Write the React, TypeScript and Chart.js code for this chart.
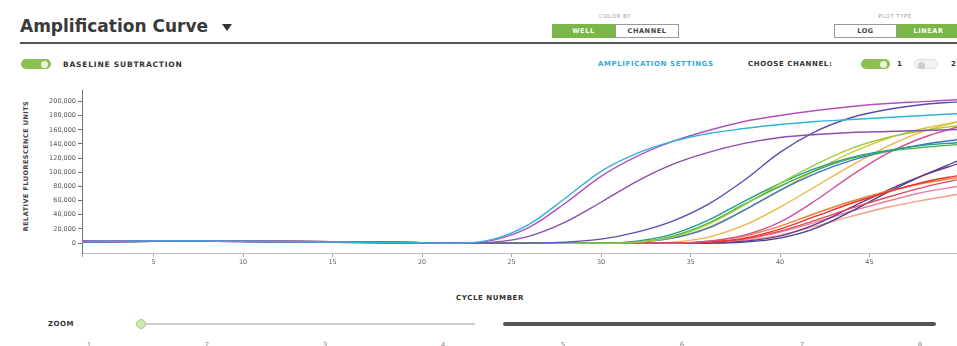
import React, { useEffect, useRef } from 'react';
import { Chart, registerables } from 'chart.js';

Chart.register(...registerables);

// ---------- data ----------
const CYCLES = [1, 5, 10, 15, 20, 22, 24, 26, 28, 30, 32, 34, 36, 38, 40, 42, 44, 46, 48, 50];

const X_TICKS = [1, 5, 10, 15, 20, 25, 30, 35, 40, 45, 50];
const X_TICK_LABELS = ['', '5', '10', '15', '20', '25', '30', '35', '40', '45', ''];
const Y_TICKS = [0, 20000, 40000, 60000, 80000, 100000, 120000, 140000, 160000, 180000, 200000];

const ZOOM_LABELS = ['1', '2', '3', '4', '5', '6', '7', '8'];

const WELL_1 = [2100, 3100, 2700, 1500, 500, 0, 5600, 26800, 63400, 101400, 126700, 143600, 154900, 161900, 167600, 171800, 174600, 177400, 180200, 183000];
const WELL_2 = [2800, 3500, 2400, 1200, 300, 0, 4200, 22500, 56300, 94300, 122500, 143600, 159100, 171800, 180200, 187300, 192900, 197100, 199900, 202800];
const WELL_3 = [1500, 2600, 2900, 1800, 700, 0, 1400, 9900, 29600, 57700, 87300, 111200, 128100, 140800, 149200, 153500, 156300, 157700, 159100, 160500];
const WELL_4 = [2500, 2900, 2200, 1400, 400, 0, 0, 0, 1400, 5600, 15500, 31000, 54900, 88700, 128100, 157700, 177400, 188700, 195700, 199900];
const WELL_5 = [2100, 3100, 2700, 1500, 500, 0, 0, 0, 0, 0, 1400, 8400, 26800, 53500, 84500, 111200, 133800, 149200, 159100, 166100];
const WELL_6 = [2800, 3500, 2400, 1200, 300, 0, 0, 0, 0, 0, 1400, 9900, 28200, 54900, 80300, 102800, 119700, 129500, 135200, 139400];
const WELL_7 = [1500, 2600, 2900, 1800, 700, 0, 0, 0, 0, 0, 2800, 12700, 32400, 59100, 84500, 105600, 121100, 130900, 138000, 142200];
const WELL_8 = [2500, 2900, 2200, 1400, 400, 0, 0, 0, 0, 0, 1400, 7000, 21100, 46500, 74600, 98600, 116900, 129500, 139400, 146400];
const WELL_9 = [2100, 3100, 2700, 1500, 500, 0, 0, 0, 0, 0, 1400, 7000, 22500, 46500, 74600, 102800, 128100, 147800, 161900, 171800];
const WELL_10 = [2800, 3500, 2400, 1200, 300, 0, 0, 0, 0, 0, 0, 0, 2800, 11300, 29600, 60500, 95700, 126700, 149200, 164700];
const WELL_11 = [1500, 2600, 2900, 1800, 700, 0, 0, 0, 0, 0, 0, 0, 1400, 7000, 19700, 38000, 56300, 71800, 85900, 95700];
const WELL_12 = [2500, 2900, 2200, 1400, 400, 0, 0, 0, 0, 0, 0, 0, 2800, 9900, 23900, 42200, 59100, 73200, 84500, 92900];
const WELL_13 = [2100, 3100, 2700, 1500, 500, 0, 0, 0, 0, 0, 0, 0, 1400, 5600, 16900, 32400, 49300, 64800, 78800, 90100];
const WELL_14 = [2800, 3500, 2400, 1200, 300, 0, 0, 0, 0, 0, 0, 0, 0, 2800, 9900, 26800, 50700, 74600, 95700, 112600];
const WELL_15 = [1500, 2600, 2900, 1800, 700, 0, 0, 0, 0, 0, 0, 0, 0, 1400, 7000, 21100, 45100, 71800, 95700, 116900];
const WELL_16 = [2500, 2900, 2200, 1400, 400, 0, 0, 0, 0, 0, 0, 0, 1400, 4200, 11300, 23900, 38000, 50700, 60500, 69000];
const WELL_17 = [2100, 3100, 2700, 1500, 500, 0, 0, 0, 0, 0, 0, 0, 1400, 5600, 15500, 29600, 45100, 59100, 71800, 80300];
const WELL_18 = [2800, 3500, 2400, 1200, 300, 0, 0, 0, 0, 0, 0, 1400, 8400, 25300, 50700, 80300, 109800, 136600, 157700, 171800];

const SERIES = [WELL_1, WELL_2, WELL_3, WELL_4, WELL_5, WELL_6, WELL_7, WELL_8, WELL_9, WELL_10, WELL_11, WELL_12, WELL_13, WELL_14, WELL_15, WELL_16, WELL_17, WELL_18];

// ---------- styles ----------
const COLORS = ['#2fb4d8', '#b44fc2', '#8a4fb0', '#5b4db5', '#9ccc3c', '#3fae4a', '#1e9c8a', '#3d74c9', '#d6c93a', '#d0509c', '#e8322c', '#f07c30', '#e24a5a', '#6a3a8a', '#4a3e96', '#f3a085', '#ea7fa4', '#f4b24a'];

const FONT = "'DejaVu Sans', 'Open Sans', sans-serif";
const GREEN = '#7ab648';

function Txt(props: { x: number; cy: number; size: number; color?: string; weight?: number; ls?: number; children: any; anchor?: 'left' | 'center' | 'right' }) {
  const { x, cy, size, color = '#333', weight = 700, ls = 0, children, anchor = 'left' } = props;
  const h = Math.ceil(size * 1.4);
  const style: any = {
    position: 'absolute',
    top: cy - h / 2,
    height: h,
    lineHeight: h + 'px',
    fontSize: size,
    fontWeight: weight,
    color,
    letterSpacing: ls,
    whiteSpace: 'nowrap',
    fontFamily: FONT,
  };
  if (anchor === 'left') style.left = x;
  else if (anchor === 'right') style.right = 957 - x;
  else { style.left = x; style.transform = 'translateX(-50%)'; }
  return <div style={style}>{children}</div>;
}

function Toggle(props: { x: number; cy: number; w: number; on: boolean }) {
  const { x, cy, w, on } = props;
  const h = 10;
  return (
    <div style={{ position: 'absolute', left: x, top: cy - h / 2, width: w, height: h, borderRadius: h / 2, background: on ? '#8cc152' : '#f2f2f2', border: on ? 'none' : '1px solid #ddd', boxSizing: 'border-box' }}>
      <div style={{ position: 'absolute', left: on ? w - 10 : 3, top: 1.5, width: 7, height: 7, borderRadius: 4, background: on ? '#e8f4da' : '#ccc' }} />
    </div>
  );
}

function Btn(props: { x: number; w: number; label: string; on: boolean }) {
  const { x, w, label, on } = props;
  return (
    <div style={{ position: 'absolute', left: x, top: 24, width: w, height: 14, boxSizing: 'border-box', background: on ? GREEN : '#fff', border: on ? 'none' : '1px solid #999', color: on ? '#fff' : '#444', fontFamily: FONT, fontSize: 6.5, fontWeight: 700, letterSpacing: 0.6, lineHeight: on ? '14px' : '12px', textAlign: 'center' }}>{label}</div>
  );
}

function AmpChart() {
  const ref = useRef<HTMLCanvasElement | null>(null);
  useEffect(() => {
    if (!ref.current) return;
    const datasets = SERIES.map((vals, i) => ({
      label: 'Well ' + (i + 1),
      data: CYCLES.map((c, j) => ({ x: c, y: vals[j] })),
      borderColor: COLORS[i],
      backgroundColor: COLORS[i],
      borderWidth: 1.4,
      pointRadius: 0,
      fill: false,
      cubicInterpolationMode: 'monotone' as const,
    }));
    const chart = new Chart(ref.current, {
      type: 'line',
      data: { datasets },
      options: {
        animation: false,
        responsive: false,
        devicePixelRatio: 1,
        layout: { padding: { top: 5, right: 3, left: 0, bottom: 0 } },
        plugins: { legend: { display: false }, tooltip: { enabled: false }, title: { display: false } },
        scales: {
          x: {
            type: 'linear',
            min: 1,
            max: 50,
            afterBuildTicks: (s: any) => { s.ticks = X_TICKS.map((v) => ({ value: v })); },
            afterFit: (s: any) => { s.height = 22; },
            ticks: {
              autoSkip: false,
              maxRotation: 0,
              padding: 1,
              color: '#666',
              font: { family: FONT, size: 6.5 },
              callback: (_v: any, i: number) => X_TICK_LABELS[i],
            },
            grid: { drawOnChartArea: false, drawTicks: true, tickLength: 4, color: '#aaa' },
            border: { display: true, color: '#bbb', width: 1 },
          },
          y: {
            type: 'linear',
            min: -14000,
            max: 215000,
            afterBuildTicks: (s: any) => { s.ticks = Y_TICKS.map((v) => ({ value: v })); },
            afterFit: (s: any) => { s.width = 82; },
            ticks: {
              autoSkip: false,
              padding: 2,
              color: '#555',
              font: { family: FONT, size: 6.5 },
              callback: (v: any) => Number(v).toLocaleString('en-US'),
            },
            grid: { drawOnChartArea: false, drawTicks: true, tickLength: 4, color: '#777' },
            border: { display: true, color: '#777', width: 1 },
          },
        },
      },
    });
    return () => chart.destroy();
  }, []);
  return <canvas ref={ref} width={962} height={190} style={{ position: 'absolute', left: 0, top: 85, width: 962, height: 190 }} />;
}

export default function App() {
  const zoomX = [89, 207, 325, 443, 563, 682, 802, 920];
  return (
    <div style={{ position: 'absolute', left: 0, top: 0, width: 957, height: 346, overflow: 'hidden', background: '#fff', fontFamily: FONT }}>
      {/* header */}
      <div style={{ position: 'absolute', left: 20, top: 16, fontFamily: FONT, fontSize: 17, fontWeight: 700, color: '#3a3a3a', lineHeight: '20px', whiteSpace: 'nowrap' }}>Amplification Curve</div>
      <div style={{ position: 'absolute', left: 222, top: 24, width: 0, height: 0, borderLeft: '5px solid transparent', borderRight: '5px solid transparent', borderTop: '7px solid #333' }} />
      <div style={{ position: 'absolute', left: 20, top: 42, width: 940, height: 2, background: '#555' }} />

      <Txt x={615} cy={16} size={5.5} color="#999" weight={400} ls={0.5} anchor="center">COLOR BY</Txt>
      <Btn x={552} w={63} label="WELL" on={true} />
      <Btn x={615} w={64} label="CHANNEL" on={false} />
      <Txt x={895} cy={16} size={5.5} color="#999" weight={400} ls={0.5} anchor="center">PLOT TYPE</Txt>
      <Btn x={834} w={63} label="LOG" on={false} />
      <Btn x={897} w={63} label="LINEAR" on={true} />

      {/* second row */}
      <Toggle x={21} cy={64} w={30} on={true} />
      <Txt x={63} cy={64} size={7.5} color="#333" ls={0.8}>BASELINE SUBTRACTION</Txt>
      <Txt x={598} cy={64} size={7} color="#35a9d8" ls={0.6}>AMPLIFICATION SETTINGS</Txt>
      <Txt x={748} cy={64} size={7} color="#333" ls={0.6}>CHOOSE CHANNEL:</Txt>
      <Toggle x={861} cy={64} w={29} on={true} />
      <Txt x={897} cy={64} size={7} color="#333">1</Txt>
      <Toggle x={914} cy={64} w={24} on={false} />
      <Txt x={951} cy={64} size={7} color="#333">2</Txt>

      {/* y axis title */}
      <div style={{ position: 'absolute', left: 26, top: 166, transform: 'translate(-50%, -50%) rotate(-90deg)', fontFamily: FONT, fontSize: 6.5, fontWeight: 700, letterSpacing: 0.45, color: '#444', whiteSpace: 'nowrap', lineHeight: '8px' }}>RELATIVE FLUORESCENCE UNITS</div>

      <AmpChart />

      <Txt x={490} cy={298} size={7} color="#333" ls={0.6} anchor="center">CYCLE NUMBER</Txt>

      {/* zoom slider */}
      <Txt x={48} cy={324} size={7} color="#333" ls={0.5}>ZOOM</Txt>
      <div style={{ position: 'absolute', left: 141, top: 323, width: 334, height: 2, background: '#ccc' }} />
      <div style={{ position: 'absolute', left: 136, top: 319, width: 10, height: 10, borderRadius: 5, background: '#cfe8b0', boxSizing: 'border-box', border: '1px solid #a8d080' }} />
      <div style={{ position: 'absolute', left: 503, top: 322, width: 433, height: 4, borderRadius: 2, background: '#555' }} />
      {ZOOM_LABELS.map((l, i) => (
        <Txt key={i} x={zoomX[i]} cy={345} size={7} color="#888" weight={400} anchor="center">{l}</Txt>
      ))}
    </div>
  );
}
